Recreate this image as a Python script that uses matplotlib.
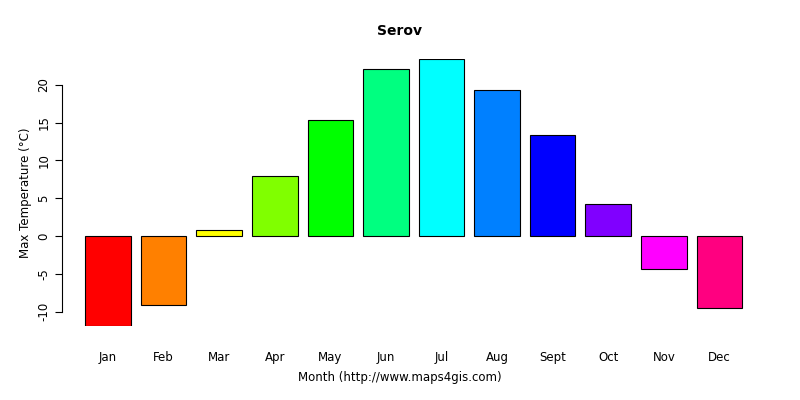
import matplotlib
matplotlib.use("Agg")
import matplotlib.pyplot as plt

months = ["Jan","Feb","Mar","Apr","May","Jun","Jul","Aug","Sept","Oct","Nov","Dec"]
values = [-11.9,-9.1,0.8,7.9,15.4,22.1,23.4,19.3,13.4,4.2,-4.4,-9.5]
colors = ["#FF0000","#FF8000","#FFFF00","#80FF00","#00FF00","#00FF80",
          "#00FFFF","#0080FF","#0000FF","#8000FF","#FF00FF","#FF0080"]

fig = plt.figure(figsize=(8,4), dpi=100)
ax = fig.add_axes([62/800, 1-326/400, (760-62)/800, (326-59)/400])
x = list(range(len(months)))
ax.bar(x, values, width=0.82, color=colors, edgecolor="black", linewidth=0.8)
ax.set_xlim(-0.827, 11.73)
ax.set_ylim(-11.9, 23.4)
for s in ["top","right","bottom"]:
    ax.spines[s].set_visible(False)
ax.spines["left"].set_bounds(-10, 20)
ax.spines["left"].set_position(("outward", 0))
ax.set_yticks([-10,-5,0,5,10,15,20])
ax.set_yticklabels(["-10","-5","0","5","10","15","20"], rotation=90, va="center", fontsize=8.5)
ax.set_xticks(x)
ax.set_xticklabels(months, fontsize=8.5)
ax.tick_params(axis="x", length=0, pad=18)
ax.tick_params(axis="y", length=5)
ax.set_ylabel("Max Temperature (°C)", fontsize=8.5)
fig.text(0.5, 1-378/400, "Month (http://www.maps4gis.com)", ha="center", va="center", fontsize=8.5)
fig.text(0.5, 1-31/400, "Serov", ha="center", va="center", fontsize=10, fontweight="bold")
fig.savefig("out.png")
